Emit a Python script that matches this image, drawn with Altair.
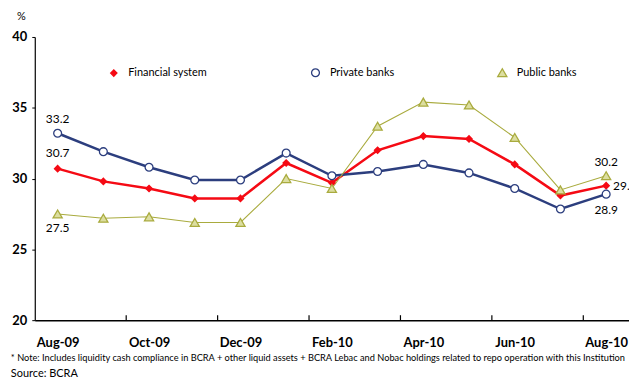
import altair as alt
import pandas as pd

months = ["Aug-09", "Sep-09", "Oct-09", "Nov-09", "Dec-09", "Jan-10", "Feb-10",
          "Mar-10", "Apr-10", "May-10", "Jun-10", "Jul-10", "Aug-10"]
financial = [30.7, 29.8, 29.3, 28.6, 28.6, 31.1, 29.7, 32.0, 33.0, 32.8, 31.0, 28.8, 29.5]
private = [33.2, 31.9, 30.8, 29.9, 29.9, 31.8, 30.2, 30.5, 31.0, 30.4, 29.3, 27.85, 28.9]
public = [27.5, 27.2, 27.3, 26.9, 26.9, 30.0, 29.3, 33.7, 35.4, 35.2, 32.9, 29.2, 30.2]
series_names = ["Financial system", "Private banks", "Public banks"]
tick_positions = [1.5, 3.5, 5.5, 7.5, 9.5, 11.5]
label_positions = [0, 2, 4, 6, 8, 10, 12]
y_ticks = [20, 25, 30, 35, 40]

rows = []
for name, vals in zip(series_names, [financial, private, public]):
    for i, (m, v) in enumerate(zip(months, vals)):
        rows.append({"idx": i, "month": m, "series": name, "value": v})
df = pd.DataFrame(rows)

FONT = "Lato"
red = "#f50a14"
blue = "#2c3e7e"
olive = "#a9ab3e"
olive_fill = "#dcdea0"

x_scale = alt.Scale(domain=[-0.5, 12.5], nice=False, zero=False)
y_scale = alt.Scale(domain=[20, 40], nice=False, zero=False)

month_expr = "[" + ",".join('"%s"' % m for m in months) + "][datum.value]"

x_enc = alt.X("idx:Q", scale=x_scale, axis=alt.Axis(
    values=label_positions, labelExpr=month_expr, ticks=False, grid=False,
    domainColor="black", domainWidth=1.5, labelFont=FONT, labelFontWeight="bold",
    labelFontSize=13, labelColor="black", labelPadding=17, title=None, labelFlush=False))
y_enc = alt.Y("value:Q", scale=y_scale, axis=alt.Axis(
    values=y_ticks, grid=False, domainColor="black", domainWidth=1.2, tickColor="black",
    tickSize=3, labelFont=FONT, labelFontWeight="bold", labelFontSize=13,
    labelColor="black", labelPadding=5, title="%", titleAngle=0, titleFont=FONT,
    titleFontWeight="normal", titleFontSize=11, titleX=-14, titleY=-16, titleAlign="center"))

stroke_scale = alt.Scale(domain=series_names, range=[red, blue, olive])
fill_scale = alt.Scale(domain=series_names, range=[red, "white", olive_fill])
shape_scale = alt.Scale(domain=series_names, range=["diamond", "circle", "triangle-up"])
size_scale = alt.Scale(domain=series_names, range=[40, 85, 60])

legend = alt.Legend(
    title=None, orient="none", direction="horizontal", columns=3,
    legendX=74, legendY=30, columnPadding=101, symbolSize=60,
    symbolStrokeWidth=1.3, labelOffset=9, labelFont=FONT, labelFontSize=11,
    labelColor="black")

base = alt.Chart(df)

lines = base.mark_line().encode(
    x=x_enc, y=y_enc,
    stroke=alt.Stroke("series:N", scale=stroke_scale, legend=legend),
    strokeWidth=alt.condition(alt.datum.series == "Public banks", alt.value(1.1), alt.value(2.5)),
)

points = base.mark_point(filled=False, opacity=1, strokeWidth=1.3).encode(
    x="idx:Q", y="value:Q",
    stroke=alt.Stroke("series:N", scale=stroke_scale, legend=legend),
    fill=alt.Fill("series:N", scale=fill_scale, legend=legend),
    shape=alt.Shape("series:N", scale=shape_scale, legend=legend),
    size=alt.Size("series:N", scale=size_scale, legend=None),
)

# annotation labels
ann_specs = [
    (0, private[0], 0, -14, "center"),
    (0, financial[0], 0, -16, "center"),
    (0, public[0], 0, 14, "center"),
    (12, public[12], 0, -14, "center"),
    (12, financial[12], 7, 0, "left"),
    (12, private[12], 0, 16, "center"),
]

texts = []
for idx, val, dx, dy, al in ann_specs:
    d = pd.DataFrame({"idx": [idx], "value": [val], "label": [f"{val:.1f}"]})
    texts.append(
        alt.Chart(d).mark_text(
            font=FONT, fontSize=12, color="black", dx=dx, dy=dy,
            align=al, baseline="middle").encode(
            x="idx:Q", y="value:Q", text="label:N")
    )

ticks_df = pd.DataFrame({"idx": tick_positions})
ticks = alt.Chart(ticks_df).mark_rule(color="black", strokeWidth=1.2).encode(
    x="idx:Q", y=alt.value(280), y2=alt.value(285))

chart = alt.layer(lines, points, ticks, *texts).properties(
    width=598, height=285,
    autosize=alt.AutoSizeParams(type="none"),
    padding={"left": 35, "top": 36, "right": 0, "bottom": 59},
    title=alt.TitleParams(
        text="* Note: Includes liquidity cash compliance in BCRA + other liquid assets +  BCRA Lebac and Nobac holdings related to repo operation with this Institution",
        subtitle="Source: BCRA",
        orient="bottom", anchor="start", frame="bounds", font=FONT, fontSize=9.3,
        fontWeight="normal", color="black", subtitleFont=FONT, subtitleFontSize=11,
        subtitleColor="black", offset=4, subtitlePadding=5, dx=-1),
).configure_view(stroke=None)

chart.save("out.html", embed_options={"renderer": "svg", "actions": False})
